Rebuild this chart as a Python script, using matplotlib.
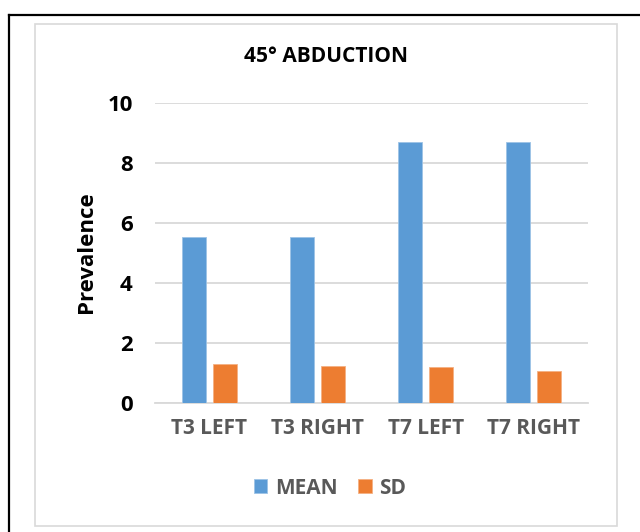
#!/usr/bin/env python3
"""Grouped bar chart: 45 degree abduction, mean and SD per site."""

import matplotlib
matplotlib.use("Agg")
import matplotlib.pyplot as plt
from matplotlib.lines import Line2D
from matplotlib.patches import Rectangle
import numpy as np

CATEGORIES = ["T3 LEFT", "T3 RIGHT", "T7 LEFT", "T7 RIGHT"]
MEAN = [5.53, 5.54, 8.69, 8.71]
SD = [1.31, 1.22, 1.19, 1.08]

BLUE = "#5B9BD5"
ORANGE = "#ED7D31"
GRID = "#D9D9D9"
TEXT_GRAY = "#595959"


def main():
    plt.rcParams.update({"font.family": "Open Sans", "font.weight": "bold"})

    fig = plt.figure(figsize=(6.4, 5.32), dpi=100)
    W, H = 640, 532

    # outer black frame (left and top edges only visible)
    fig.add_artist(Line2D([9 / W, 9 / W], [0, 1 - 15 / H], color="black",
                          linewidth=1.6, transform=fig.transFigure))
    fig.add_artist(Line2D([9 / W, 1], [1 - 15 / H, 1 - 15 / H], color="black",
                          linewidth=1.6, transform=fig.transFigure))
    # chart area border
    fig.add_artist(Rectangle((35 / W, 1 - 526 / H), (617 - 35) / W, (526 - 24) / H,
                             fill=False, edgecolor=GRID, linewidth=1.2,
                             transform=fig.transFigure))

    ax = fig.add_axes([155 / W, 1 - 403 / H, (588 - 155) / W, 300 / H])

    x = np.arange(len(CATEGORIES))
    width = 0.222
    off = (width + 0.065) / 2
    ax.bar(x - off, MEAN, width, color=BLUE, edgecolor="#9DC3E6", linewidth=0.6,
           label="MEAN", zorder=3)
    ax.bar(x + off, SD, width, color=ORANGE, edgecolor="#F4B183", linewidth=0.6,
           label="SD", zorder=3)

    ax.set_xlim(-0.5, len(CATEGORIES) - 0.5)
    ax.set_ylim(0, 10)
    ax.set_yticks([0, 2, 4, 6, 8, 10])
    ax.yaxis.grid(True, color=GRID, linewidth=1.3, zorder=0)
    ax.set_axisbelow(True)
    for s in ["top", "right", "left"]:
        ax.spines[s].set_visible(False)
    ax.spines["bottom"].set_color(GRID)
    ax.spines["bottom"].set_linewidth(1.3)
    ax.tick_params(axis="both", length=0)
    ax.tick_params(axis="y", labelsize=16, labelcolor="black", pad=16)
    ax.tick_params(axis="x", labelsize=15, labelcolor=TEXT_GRAY, pad=11)
    ax.set_xticks(x)
    ax.set_xticklabels(CATEGORIES)
    for lbl in ax.get_xticklabels() + ax.get_yticklabels():
        lbl.set_fontweight("bold")

    fig.text(87 / W, 1 - 252 / H, "Prevalence", rotation=90, ha="center",
             va="center", fontsize=16, fontweight="bold", color="black")
    fig.text(326 / W, 1 - 56 / H, "45° ABDUCTION", ha="center", va="center",
             fontsize=15, fontweight="bold", color="black")

    fig.legend(loc="center", bbox_to_anchor=(330 / W, 1 - 488 / H), ncol=2,
               frameon=False, handlelength=0.65, handleheight=0.65,
               handletextpad=0.35, columnspacing=1.0, labelcolor=TEXT_GRAY,
               prop={"family": "Open Sans", "weight": "bold", "size": 15})

    fig.savefig("out.png", dpi=100)
    plt.close(fig)


if __name__ == "__main__":
    main()
